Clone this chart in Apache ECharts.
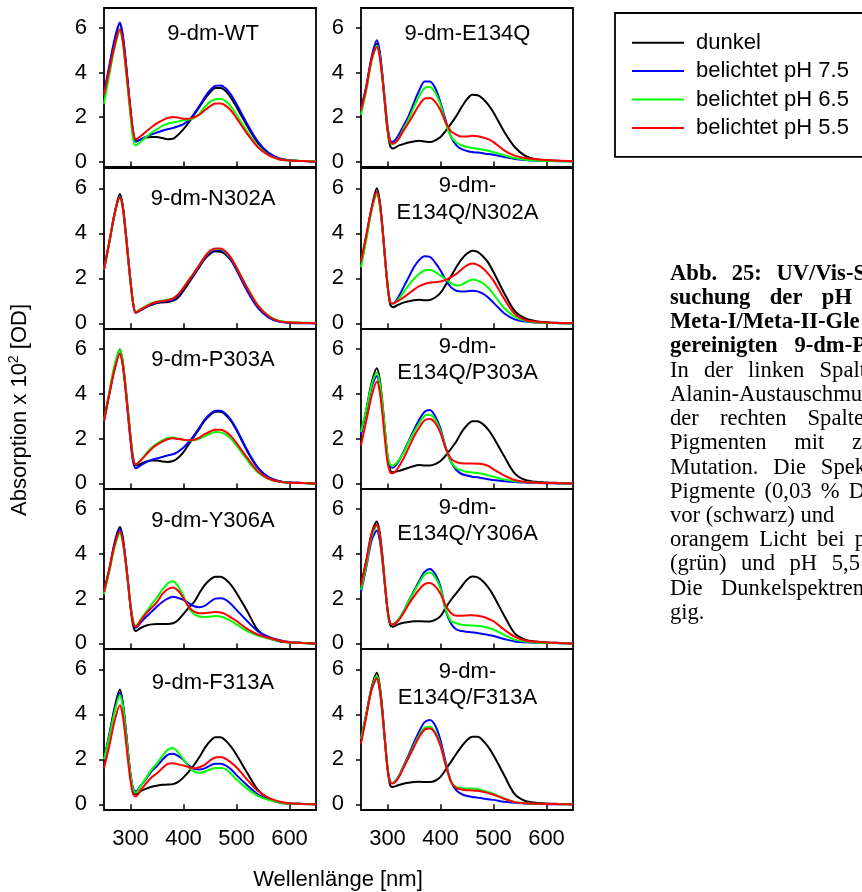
<!DOCTYPE html>
<html><head><meta charset="utf-8">
<script src="https://cdn.jsdelivr.net/npm/echarts@6/dist/echarts.min.js"></script>
<style>html,body{margin:0;padding:0;background:#fff}#c{width:862px;height:892px}</style>
</head><body><div id="c"></div>
<script>
// wavelength grid (nm)
const wavelengths = [250,260,270,280,285,290,295,300,305,310,320,330,340,350,360,370,380,390,400,410,420,430,440,450,460,470,480,490,500,520,540,560,580,600,625,650];
const seriesNames = ['dunkel','belichtet pH 7.5','belichtet pH 6.5','belichtet pH 5.5'];
const xTickValues = [300,400,500,600];
const yTickValues = [0,2,4,6];

// 9-dm-WT
const WT_dunkel = [3.0,4.2,5.4,6.2,5.7,4.7,3.5,2.3,1.3,0.9, 1.0,1.08,1.1,1.1,1.05,1.0,1.02,1.2,1.45,1.75,2.1,2.45,2.8,3.1,3.3,3.3,3.15,2.85,2.45, 1.6,0.85,0.35,0.12,0.05,0.02,0.0];
const WT_pH75 = [3.1,4.3,5.5,6.25,5.75,4.75,3.5,2.3,1.3,0.9, 1.0,1.12,1.22,1.3,1.38,1.45,1.5,1.58,1.68,1.85,2.15,2.5,2.88,3.2,3.4,3.42,3.28,2.98,2.58, 1.7,0.9,0.4,0.15,0.05,0.02,0.0];
const WT_pH65 = [2.6,3.9,5.1,5.85,5.4,4.4,3.2,2.0,1.0,0.72, 0.9,1.1,1.3,1.45,1.6,1.7,1.75,1.8,1.85,1.88,1.95,2.15,2.45,2.68,2.8,2.82,2.7,2.45,2.1, 1.35,0.7,0.3,0.1,0.04,0.02,0.02];
const WT_pH55 = [3.0,4.1,5.2,5.95,5.5,4.5,3.4,2.3,1.35,1.0, 1.15,1.35,1.55,1.72,1.85,1.95,2.0,1.97,1.92,1.92,1.98,2.1,2.3,2.48,2.6,2.6,2.5,2.28,1.95, 1.25,0.65,0.28,0.1,0.04,0.02,0.0];
// 9-dm-N302A
const N302A_dunkel = [2.4,3.6,4.9,5.75,5.3,4.3,3.1,1.9,0.9,0.48, 0.6,0.72,0.82,0.9,0.93,0.95,1.0,1.15,1.45,1.8,2.15,2.5,2.85,3.08,3.2,3.18,3.05,2.78,2.38, 1.5,0.75,0.3,0.1,0.04,0.02,0.0];
const N302A_pH75 = [2.4,3.6,4.85,5.65,5.25,4.25,3.05,1.85,0.88,0.47, 0.6,0.74,0.85,0.92,0.96,1.0,1.05,1.22,1.52,1.88,2.2,2.55,2.9,3.15,3.27,3.25,3.1,2.8,2.38, 1.45,0.7,0.27,0.08,0.02,0.0,0.0];
const N302A_pH65 = [2.4,3.6,4.85,5.6,5.2,4.2,3.0,1.85,0.9,0.5, 0.65,0.78,0.9,0.97,1.0,1.05,1.12,1.3,1.6,1.93,2.25,2.6,2.95,3.2,3.3,3.3,3.15,2.88,2.48, 1.6,0.82,0.35,0.12,0.05,0.03,0.02];
const N302A_pH55 = [2.4,3.6,4.85,5.6,5.2,4.2,3.0,1.85,0.88,0.48, 0.62,0.76,0.88,0.95,0.98,1.03,1.1,1.28,1.58,1.92,2.25,2.6,2.95,3.22,3.33,3.32,3.18,2.9,2.48, 1.58,0.8,0.33,0.1,0.04,0.02,0.0];
// 9-dm-P303A
const P303A_dunkel = [2.8,4.0,5.2,6.0,5.5,4.5,3.3,2.1,1.1,0.8, 0.88,0.98,1.02,1.02,0.98,0.96,1.0,1.15,1.4,1.75,2.1,2.45,2.8,3.05,3.2,3.2,3.05,2.78,2.38, 1.45,0.7,0.28,0.1,0.04,0.02,0.0];
const P303A_pH75 = [2.8,4.0,5.1,5.8,5.35,4.35,3.1,1.9,0.95,0.68, 0.82,0.95,1.05,1.12,1.18,1.25,1.3,1.42,1.6,1.85,2.15,2.5,2.85,3.1,3.25,3.25,3.1,2.82,2.42, 1.5,0.72,0.28,0.1,0.04,0.02,0.0];
const P303A_pH65 = [2.8,4.1,5.3,6.0,5.5,4.5,3.3,2.1,1.15,0.85, 1.05,1.35,1.6,1.78,1.92,2.02,2.05,2.0,1.95,1.92,1.93,2.0,2.1,2.22,2.3,2.28,2.18,1.98,1.7, 1.05,0.5,0.2,0.07,0.03,0.02,0.0];
const P303A_pH55 = [2.8,4.0,5.1,5.8,5.35,4.4,3.2,2.05,1.1,0.85, 1.05,1.3,1.55,1.73,1.87,1.97,2.02,1.98,1.95,1.93,1.95,2.05,2.2,2.32,2.4,2.4,2.3,2.1,1.8, 1.15,0.55,0.22,0.08,0.03,0.02,0.0];
// 9-dm-Y306A
const Y306A_dunkel = [2.3,3.3,4.5,5.2,4.8,3.9,2.8,1.6,0.8,0.55, 0.7,0.8,0.85,0.87,0.87,0.87,0.9,1.05,1.32,1.6,1.85,2.25,2.6,2.85,2.98,2.98,2.85,2.6,2.25, 1.45,0.6,0.25,0.1,0.04,0.02,0.0];
const Y306A_pH75 = [2.3,3.3,4.45,5.1,4.7,3.85,2.8,1.7,0.95,0.7, 0.95,1.2,1.42,1.65,1.85,2.0,2.08,2.03,1.95,1.8,1.66,1.62,1.68,1.85,2.0,2.02,1.95,1.75,1.5, 1.0,0.55,0.3,0.15,0.06,0.02,0.0];
const Y306A_pH65 = [2.2,3.2,4.3,4.9,4.55,3.75,2.75,1.7,1.0,0.8, 1.1,1.42,1.75,2.05,2.4,2.68,2.78,2.55,2.12,1.6,1.3,1.2,1.18,1.2,1.22,1.2,1.12,1.0,0.85, 0.55,0.35,0.22,0.12,0.05,0.02,0.0];
const Y306A_pH55 = [2.3,3.3,4.4,5.0,4.65,3.8,2.8,1.7,0.95,0.75, 1.05,1.35,1.6,1.85,2.2,2.42,2.5,2.35,2.02,1.62,1.42,1.35,1.35,1.38,1.4,1.38,1.3,1.15,1.0, 0.65,0.4,0.25,0.13,0.05,0.02,0.0];
// 9-dm-F313A
const F313A_dunkel = [2.0,3.1,4.3,5.1,4.6,3.6,2.4,1.3,0.6,0.45, 0.6,0.7,0.78,0.83,0.87,0.88,0.9,1.0,1.2,1.45,1.75,2.1,2.5,2.8,2.98,2.98,2.82,2.55,2.2, 1.4,0.65,0.25,0.08,0.03,0.02,0.0];
const F313A_pH75 = [2.0,3.05,4.2,4.95,4.5,3.55,2.4,1.35,0.7,0.58, 0.85,1.15,1.48,1.7,1.98,2.2,2.25,2.15,1.97,1.72,1.58,1.55,1.6,1.72,1.8,1.8,1.72,1.55,1.3, 0.85,0.45,0.22,0.1,0.04,0.02,0.0];
const F313A_pH65 = [2.0,3.0,4.1,4.85,4.45,3.5,2.35,1.3,0.65,0.52, 0.85,1.2,1.55,1.82,2.15,2.42,2.5,2.3,2.0,1.65,1.45,1.4,1.45,1.55,1.62,1.62,1.55,1.35,1.1, 0.7,0.38,0.2,0.09,0.04,0.02,0.0];
const F313A_pH55 = [1.6,2.6,3.7,4.4,4.0,3.1,2.0,1.05,0.45,0.35, 0.65,0.95,1.2,1.38,1.6,1.8,1.83,1.78,1.73,1.65,1.6,1.65,1.75,1.95,2.08,2.1,2.02,1.85,1.65, 1.1,0.6,0.3,0.13,0.05,0.02,0.0];
// 9-dm-E134Q
const E134Q_dunkel = [2.3,3.3,4.6,5.3,4.9,3.9,2.6,1.4,0.7,0.58, 0.7,0.78,0.85,0.9,0.93,0.9,0.87,0.95,1.1,1.38,1.7,2.05,2.45,2.8,3.0,2.98,2.82,2.55,2.2, 1.35,0.65,0.25,0.1,0.05,0.03,0.02];
const E134Q_pH75 = [2.35,3.4,4.7,5.45,5.0,4.0,2.8,1.6,0.95,0.88, 1.15,1.6,2.05,2.65,3.2,3.6,3.6,3.3,2.65,1.82,1.1,0.72,0.55,0.47,0.42,0.4,0.37,0.33,0.3, 0.2,0.11,0.06,0.03,0.02,0.01,0.0];
const E134Q_pH65 = [2.1,3.2,4.5,5.2,4.8,3.85,2.7,1.5,0.85,0.77, 1.0,1.45,1.9,2.45,2.95,3.3,3.35,3.1,2.55,1.7,1.1,0.85,0.72,0.65,0.6,0.57,0.53,0.48,0.42, 0.28,0.15,0.08,0.04,0.02,0.01,0.0];
const E134Q_pH55 = [2.3,3.3,4.6,5.15,4.75,3.8,2.65,1.5,0.88,0.8, 0.98,1.38,1.75,2.15,2.55,2.82,2.85,2.68,2.3,1.75,1.35,1.2,1.12,1.12,1.15,1.13,1.08,1.0,0.87, 0.5,0.26,0.15,0.1,0.06,0.03,0.02];
// 9-dm-E134Q/N302A
const E134Q_N302A_dunkel = [2.6,3.8,5.1,6.0,5.5,4.4,3.0,1.7,0.85,0.72, 0.82,0.92,0.98,1.03,1.05,1.03,1.04,1.15,1.35,1.72,2.1,2.5,2.85,3.1,3.23,3.18,2.98,2.7,2.28, 1.35,0.55,0.22,0.1,0.05,0.02,0.0];
const E134Q_N302A_pH75 = [2.7,3.9,5.1,5.85,5.4,4.35,3.0,1.75,0.95,0.88, 1.15,1.6,2.05,2.5,2.82,2.98,2.95,2.7,2.35,1.92,1.6,1.45,1.42,1.43,1.45,1.42,1.32,1.15,0.92, 0.45,0.18,0.08,0.04,0.02,0.01,0.0];
const E134Q_N302A_pH65 = [2.5,3.7,5.0,5.7,5.3,4.25,2.95,1.75,0.95,0.88, 1.05,1.38,1.7,1.98,2.2,2.35,2.38,2.28,2.12,1.95,1.78,1.68,1.72,1.85,1.95,1.9,1.78,1.58,1.3, 0.68,0.3,0.12,0.05,0.02,0.01,0.0];
const E134Q_N302A_pH55 = [2.75,3.9,5.1,5.85,5.4,4.35,3.0,1.75,0.95,0.88, 1.0,1.15,1.32,1.5,1.65,1.75,1.8,1.83,1.86,1.93,2.05,2.2,2.4,2.58,2.66,2.6,2.45,2.2,1.9, 1.1,0.42,0.15,0.07,0.04,0.02,0.02];
// 9-dm-E134Q/P303A
const E134Q_P303A_dunkel = [2.2,3.3,4.5,5.15,4.7,3.7,2.4,1.2,0.6,0.5, 0.55,0.62,0.7,0.78,0.82,0.8,0.8,0.86,1.0,1.25,1.55,1.88,2.3,2.6,2.78,2.78,2.65,2.4,2.05, 1.22,0.45,0.15,0.07,0.04,0.02,0.0];
const E134Q_P303A_pH75 = [2.2,3.2,4.3,4.8,4.4,3.5,2.3,1.2,0.75,0.7, 0.95,1.4,1.9,2.4,2.85,3.2,3.28,3.0,2.45,1.6,0.95,0.6,0.42,0.35,0.3,0.27,0.23,0.19,0.15, 0.1,0.06,0.04,0.02,0.01,0.0,0.0];
const E134Q_P303A_pH65 = [2.3,3.3,4.4,4.95,4.55,3.65,2.45,1.3,0.85,0.8, 1.0,1.35,1.85,2.3,2.7,3.02,3.07,2.85,2.35,1.55,0.98,0.68,0.58,0.52,0.49,0.46,0.42,0.36,0.3, 0.18,0.1,0.06,0.03,0.02,0.01,0.0];
const E134Q_P303A_pH55 = [1.7,2.8,3.9,4.55,4.15,3.2,2.0,0.95,0.5,0.45, 0.7,1.1,1.6,2.1,2.5,2.82,2.88,2.7,2.25,1.55,1.1,0.95,0.9,0.89,0.89,0.88,0.86,0.78,0.63, 0.36,0.15,0.06,0.03,0.02,0.01,0.0];
// 9-dm-E134Q/Y306A
const E134Q_Y306A_dunkel = [2.6,3.7,4.9,5.45,5.0,4.0,2.7,1.5,0.82,0.74, 0.85,0.92,0.96,0.99,0.99,0.98,0.98,1.05,1.22,1.6,1.95,2.25,2.55,2.85,2.99,2.95,2.78,2.5,2.13, 1.25,0.45,0.17,0.08,0.04,0.02,0.0];
const E134Q_Y306A_pH75 = [2.3,3.4,4.6,5.05,4.65,3.75,2.6,1.5,0.9,0.85, 1.05,1.42,1.9,2.35,2.8,3.2,3.33,3.1,2.55,1.45,0.88,0.62,0.55,0.52,0.5,0.46,0.42,0.38,0.33, 0.2,0.09,0.05,0.03,0.02,0.01,0.0];
const E134Q_Y306A_pH65 = [2.4,3.5,4.8,5.25,4.85,3.9,2.7,1.55,0.9,0.85, 1.05,1.42,1.88,2.3,2.72,3.08,3.17,2.95,2.45,1.5,1.0,0.9,0.83,0.81,0.8,0.78,0.76,0.7,0.62, 0.38,0.17,0.08,0.04,0.02,0.01,0.0];
const E134Q_Y306A_pH55 = [2.6,3.7,4.9,5.3,4.9,3.95,2.7,1.55,0.9,0.85, 1.0,1.35,1.75,2.1,2.42,2.65,2.7,2.55,2.22,1.68,1.35,1.24,1.24,1.25,1.26,1.24,1.19,1.1,0.99, 0.62,0.3,0.13,0.07,0.04,0.02,0.0];
// 9-dm-E134Q/F313A
const E134Q_F313A_dunkel = [2.8,4.0,5.2,5.85,5.35,4.3,2.9,1.6,0.85,0.77, 0.85,0.92,0.96,0.99,1.0,0.99,0.99,1.05,1.22,1.55,1.9,2.25,2.58,2.85,3.0,3.0,2.84,2.55,2.18, 1.3,0.45,0.15,0.07,0.04,0.02,0.0];
const E134Q_F313A_pH75 = [2.9,4.0,5.1,5.6,5.15,4.15,2.85,1.65,1.0,0.95, 1.2,1.7,2.2,2.75,3.25,3.65,3.75,3.5,2.85,1.85,1.0,0.62,0.45,0.37,0.33,0.3,0.26,0.23,0.2, 0.12,0.07,0.04,0.02,0.01,0.0,0.0];
const E134Q_F313A_pH65 = [2.9,4.0,5.15,5.7,5.25,4.2,2.9,1.65,1.0,0.95, 1.18,1.65,2.12,2.62,3.08,3.4,3.45,3.22,2.65,1.75,1.0,0.77,0.72,0.7,0.7,0.67,0.62,0.55,0.47, 0.26,0.1,0.05,0.03,0.02,0.01,0.0];
const E134Q_F313A_pH55 = [2.7,3.9,5.1,5.6,5.15,4.15,2.85,1.6,0.98,0.93, 1.15,1.6,2.08,2.55,3.0,3.32,3.37,3.15,2.6,1.72,1.0,0.72,0.66,0.63,0.62,0.6,0.56,0.5,0.43, 0.25,0.1,0.05,0.03,0.02,0.01,0.0];

const panelTitles = [
  ['9-dm-WT'], ['9-dm-N302A'], ['9-dm-P303A'], ['9-dm-Y306A'], ['9-dm-F313A'],
  ['9-dm-E134Q'], ['9-dm-','E134Q/N302A'], ['9-dm-','E134Q/P303A'], ['9-dm-','E134Q/Y306A'], ['9-dm-','E134Q/F313A']
];
const panelData = [
  [WT_dunkel,WT_pH75,WT_pH65,WT_pH55],
  [N302A_dunkel,N302A_pH75,N302A_pH65,N302A_pH55],
  [P303A_dunkel,P303A_pH75,P303A_pH65,P303A_pH55],
  [Y306A_dunkel,Y306A_pH75,Y306A_pH65,Y306A_pH55],
  [F313A_dunkel,F313A_pH75,F313A_pH65,F313A_pH55],
  [E134Q_dunkel,E134Q_pH75,E134Q_pH65,E134Q_pH55],
  [E134Q_N302A_dunkel,E134Q_N302A_pH75,E134Q_N302A_pH65,E134Q_N302A_pH55],
  [E134Q_P303A_dunkel,E134Q_P303A_pH75,E134Q_P303A_pH65,E134Q_P303A_pH55],
  [E134Q_Y306A_dunkel,E134Q_Y306A_pH75,E134Q_Y306A_pH65,E134Q_Y306A_pH55],
  [E134Q_F313A_dunkel,E134Q_F313A_pH75,E134Q_F313A_pH65,E134Q_F313A_pH55]
];
// caption lines: text, bold, justified right edge (null = natural spacing)
const captionLines = [
  ['Abb. 25: UV/Vis-S', true, 866], ['suchung der pH', true, 852], ['Meta-I/Meta-II-Gle', true, null], ['gereinigten 9-dm-P', true, 866],
  ['In der linken Spalt', false, 866], ['Alanin-Austauschmu', false, null], ['der rechten Spalte', false, 864], ['Pigmenten mit z', false, 862],
  ['Mutation. Die Spek', false, 866], ['Pigmente (0,03 % D', false, 865], ['vor (schwarz) und', false, 832], ['orangem Licht bei p', false, 866],
  ['(grün) und pH 5,5', false, 860], ['Die Dunkelspektren', false, 864], ['gig.', false, null]
];

// layout
const FONT = '"Liberation Sans", Arial, sans-serif';
const SERIF = '"Liberation Serif", "Times New Roman", serif';
const COLORS = ['#000000','#0000ff','#00ff00','#ff0000'];
const colLeft = [104, 361];
const colWidth = 212;
const rowTop = [8, 168, 329, 489, 649];
const rowHeight = [159, 161, 160, 160, 161];
const titleX = [213, 467.5];
const titleY1 = [34, 199, 360, 521, 683];
const titleY2 = [[34], [186, 212.5], [346.7, 372.5], [508, 534.2], [671.7, 697.5]];

const grids = [], xAxes = [], yAxes = [], series = [], graphics = [];
for (let p = 0; p < 10; p++) {
  const col = p < 5 ? 0 : 1, row = p % 5;
  grids.push({left: colLeft[col], top: rowTop[row], width: colWidth, height: rowHeight[row],
    show: true, borderColor: '#000', borderWidth: 1.8, backgroundColor: 'transparent'});
  xAxes.push({type: 'value', gridIndex: p, min: 250, max: 650,
    axisLine: {show: false}, splitLine: {show: false},
    axisTick: {show: true, inside: false, length: 6, customValues: xTickValues, lineStyle: {color: '#000', width: 1.5}},
    axisLabel: {show: row === 4, customValues: xTickValues, fontSize: 22, color: '#000', fontFamily: FONT, margin: 18}});
  yAxes.push({type: 'value', gridIndex: p, min: -0.25, max: 6.9,
    axisLine: {show: false}, splitLine: {show: false},
    axisTick: {show: true, inside: false, length: 5, customValues: yTickValues, lineStyle: {color: '#000', width: 1.5}},
    axisLabel: {show: true, customValues: yTickValues, fontSize: 22, color: '#000', fontFamily: FONT, margin: 17}});
  for (let s = 0; s < 4; s++) {
    series.push({type: 'line', name: seriesNames[s], xAxisIndex: p, yAxisIndex: p,
      data: wavelengths.map((w, i) => [w, panelData[p][s][i]]),
      symbol: 'none', smooth: 0.3, animation: false,
      lineStyle: {color: COLORS[s], width: 2}, itemStyle: {color: COLORS[s]}});
  }
  const t = panelTitles[p];
  const ys = t.length === 1 ? [col === 0 ? titleY1[row] : titleY2[row][0]] : titleY2[row];
  t.forEach((txt, k) => graphics.push({type: 'text', x: titleX[col], y: ys[k],
    style: {text: txt, font: '22px ' + FONT, fill: '#000', textAlign: 'center', textVerticalAlign: 'middle'}}));
}

graphics.push({type: 'text', x: 20, y: 410, rotation: Math.PI / 2,
  style: {text: '{a|Absorption x 10}{s|2}{a| [OD]}', textAlign: 'center', textVerticalAlign: 'middle',
    rich: {a: {fontSize: 22, fontFamily: FONT, fill: '#000', lineHeight: 26}, s: {fontSize: 14, fontFamily: FONT, fill: '#000', verticalAlign: 'top', lineHeight: 26, padding: [0, 0, 10, 0]}}}});
graphics.push({type: 'text', x: 338, y: 880,
  style: {text: 'Wellenlänge [nm]', font: '22px ' + FONT, fill: '#000', textAlign: 'center', textVerticalAlign: 'middle'}});

// caption (justified word placement)
const mctx = document.createElement('canvas').getContext('2d');
const capX = 670, capY0 = 274, capDY = 24.2, capSize = 22.6;
captionLines.forEach(([txt, bold, right], i) => {
  const font = (bold ? 'bold ' : '') + capSize + 'px ' + SERIF;
  mctx.font = font;
  const words = txt.split(' ');
  const widths = words.map(w => mctx.measureText(w).width);
  const spaceW = mctx.measureText(' ').width;
  const total = widths.reduce((a, b) => a + b, 0);
  let gap = spaceW;
  if (right !== null && words.length > 1) gap = Math.max(spaceW, (right - capX - total) / (words.length - 1));
  let x = capX;
  words.forEach((w, k) => {
    graphics.push({type: 'text', x: x, y: capY0 + i * capDY,
      style: {text: w, font: font, fill: '#000', textAlign: 'left', textVerticalAlign: 'middle'}});
    x += widths[k] + gap;
  });
});

const chart = echarts.init(document.getElementById('c'), null, {renderer: 'canvas'});
chart.setOption({
  animation: false,
  backgroundColor: '#fff',
  grid: grids, xAxis: xAxes, yAxis: yAxes, series: series,
  legend: {data: seriesNames, orient: 'vertical', left: 615, top: 13, padding: [15.5, 60, 14.8, 17],
    icon: 'rect', itemWidth: 52, itemHeight: 2, itemGap: 0, borderColor: '#000', borderWidth: 1.8, backgroundColor: '#fff',
    selectedMode: false, textStyle: {fontSize: 22, lineHeight: 28.4, color: '#000', fontFamily: FONT, padding: [0, 0, 0, 7]}},
  graphic: graphics
});
</script></body></html>
